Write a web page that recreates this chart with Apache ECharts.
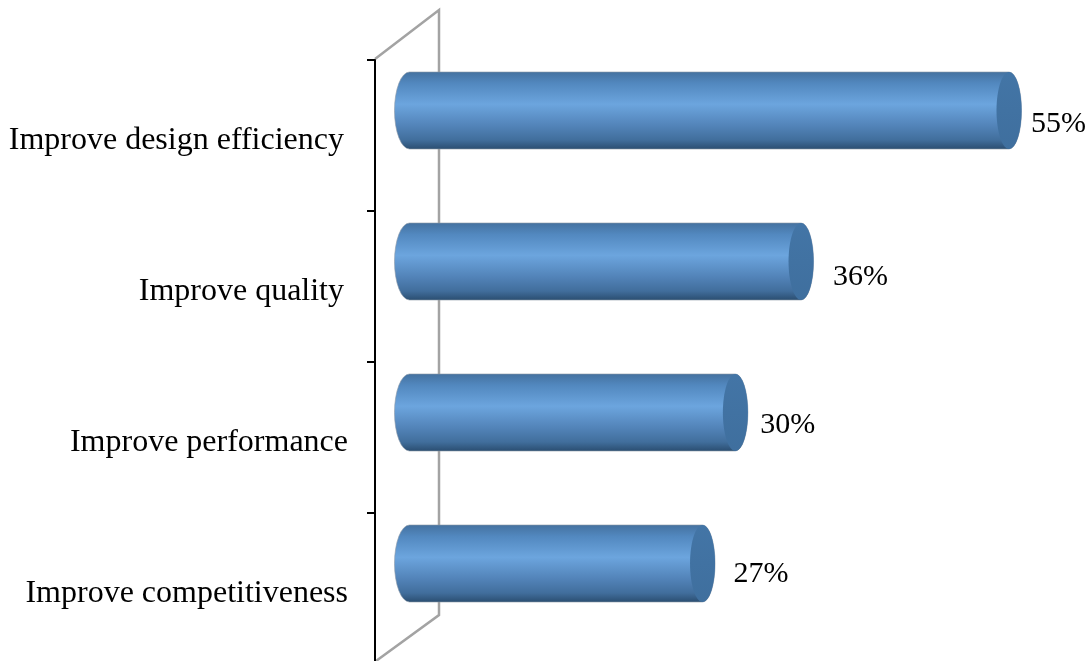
<!DOCTYPE html>
<html>
<head>
<meta charset="utf-8">
<style>html,body{margin:0;padding:0;background:#fff;overflow:hidden}#c{width:1089px;height:661px}</style>
<script src="https://cdn.jsdelivr.net/npm/echarts@6/dist/echarts.min.js"></script>
</head>
<body>
<div id="c"></div>
<script>
var categories = ['Improve design efficiency', 'Improve quality', 'Improve performance', 'Improve competitiveness'];
var percentages = [55, 36, 30, 27];

// layout constants, not data
var depth = [32, -25];
var barHeight = 77;
var capRx = 12.5;
var backRx = 15;
var labelNudge = [[22, 13.5], [32, 15.5], [25, 12.5], [31, 10.5]];
var labelRightPad = [4, 4, 0, 0];
var serif = '"Liberation Serif","Times New Roman",serif';

var chart = echarts.init(document.getElementById('c'), null, {renderer: 'canvas'});

function renderBar(params, api) {
  var i = params.dataIndex;
  var end = api.coord([api.value(0), i]);
  var start = api.coord([0, i]);
  var x0 = start[0] + depth[0] + backRx - capRx, x1 = end[0] + depth[0], cy = end[1] + depth[1];
  var ry = barHeight / 2, t = cy - ry, b = cy + ry, rx = capRx;
  var body = 'M' + x0 + ' ' + t + ' L' + x1 + ' ' + t +
    ' A' + rx + ' ' + ry + ' 0 0 1 ' + x1 + ' ' + b +
    ' L' + x0 + ' ' + b +
    ' A' + backRx + ' ' + ry + ' 0 0 1 ' + x0 + ' ' + t + ' Z';
  var n = labelNudge[i];
  return {
    type: 'group',
    children: [
      {type: 'path', shape: {pathData: body}, style: {
        fill: new echarts.graphic.LinearGradient(0, 0, 0, 1, [
          {offset: 0, color: '#44719f'},
          {offset: 0.15, color: '#5288bf'},
          {offset: 0.42, color: '#6ca5de'},
          {offset: 0.7, color: '#5283b8'},
          {offset: 0.88, color: '#416e9c'},
          {offset: 1, color: '#2a4d70'}
        ]),
        stroke: '#8a97a6', lineWidth: 0.6
      }},
      {type: 'ellipse', shape: {cx: x1, cy: cy, rx: rx, ry: ry}, style: {
        fill: new echarts.graphic.LinearGradient(0, 0, 0, 1, [
          {offset: 0, color: '#4375a6'},
          {offset: 1, color: '#3f6f9e'}
        ])
      }},
      {type: 'text', style: {
        text: api.value(0) + '%', x: x1 + n[0], y: cy + n[1],
        fill: '#000', font: '30px ' + serif, textAlign: 'left', textVerticalAlign: 'middle'
      }}
    ]
  };
}

chart.setOption({
  animation: false,
  backgroundColor: '#fff',
  grid: {left: 375, top: 60, width: 602, height: 604, outerBoundsMode: 'none'},
  xAxis: {type: 'value', min: 0, max: 55, show: false},
  yAxis: {
    type: 'category', inverse: true, data: categories,
    axisLine: {show: true, lineStyle: {color: '#000', width: 2}},
    axisTick: {show: true, length: 8, lineStyle: {color: '#000', width: 2}},
    axisLabel: {
      margin: 27,
      formatter: function (v, i) { return '{t' + labelRightPad[i] + '|' + v + '}'; },
      rich: {
        t4: {fontFamily: serif, fontSize: 32, color: '#000', padding: [10, 4, 0, 0]},
        t0: {fontFamily: serif, fontSize: 32, color: '#000', padding: [10, 0, 0, 0]}
      }
    }
  },
  graphic: [{
    type: 'polyline', z: -1, silent: true,
    shape: {points: [[375, 59], [439, 10], [439, 615], [376, 661]]},
    style: {stroke: '#a3a3a3', lineWidth: 2.5, fill: null}
  }],
  series: [{
    type: 'custom', z: 5, clip: false,
    encode: {x: 0, y: 1},
    renderItem: renderBar,
    data: percentages.map(function (v, i) { return [v, i]; })
  }]
});
</script>
</body>
</html>
